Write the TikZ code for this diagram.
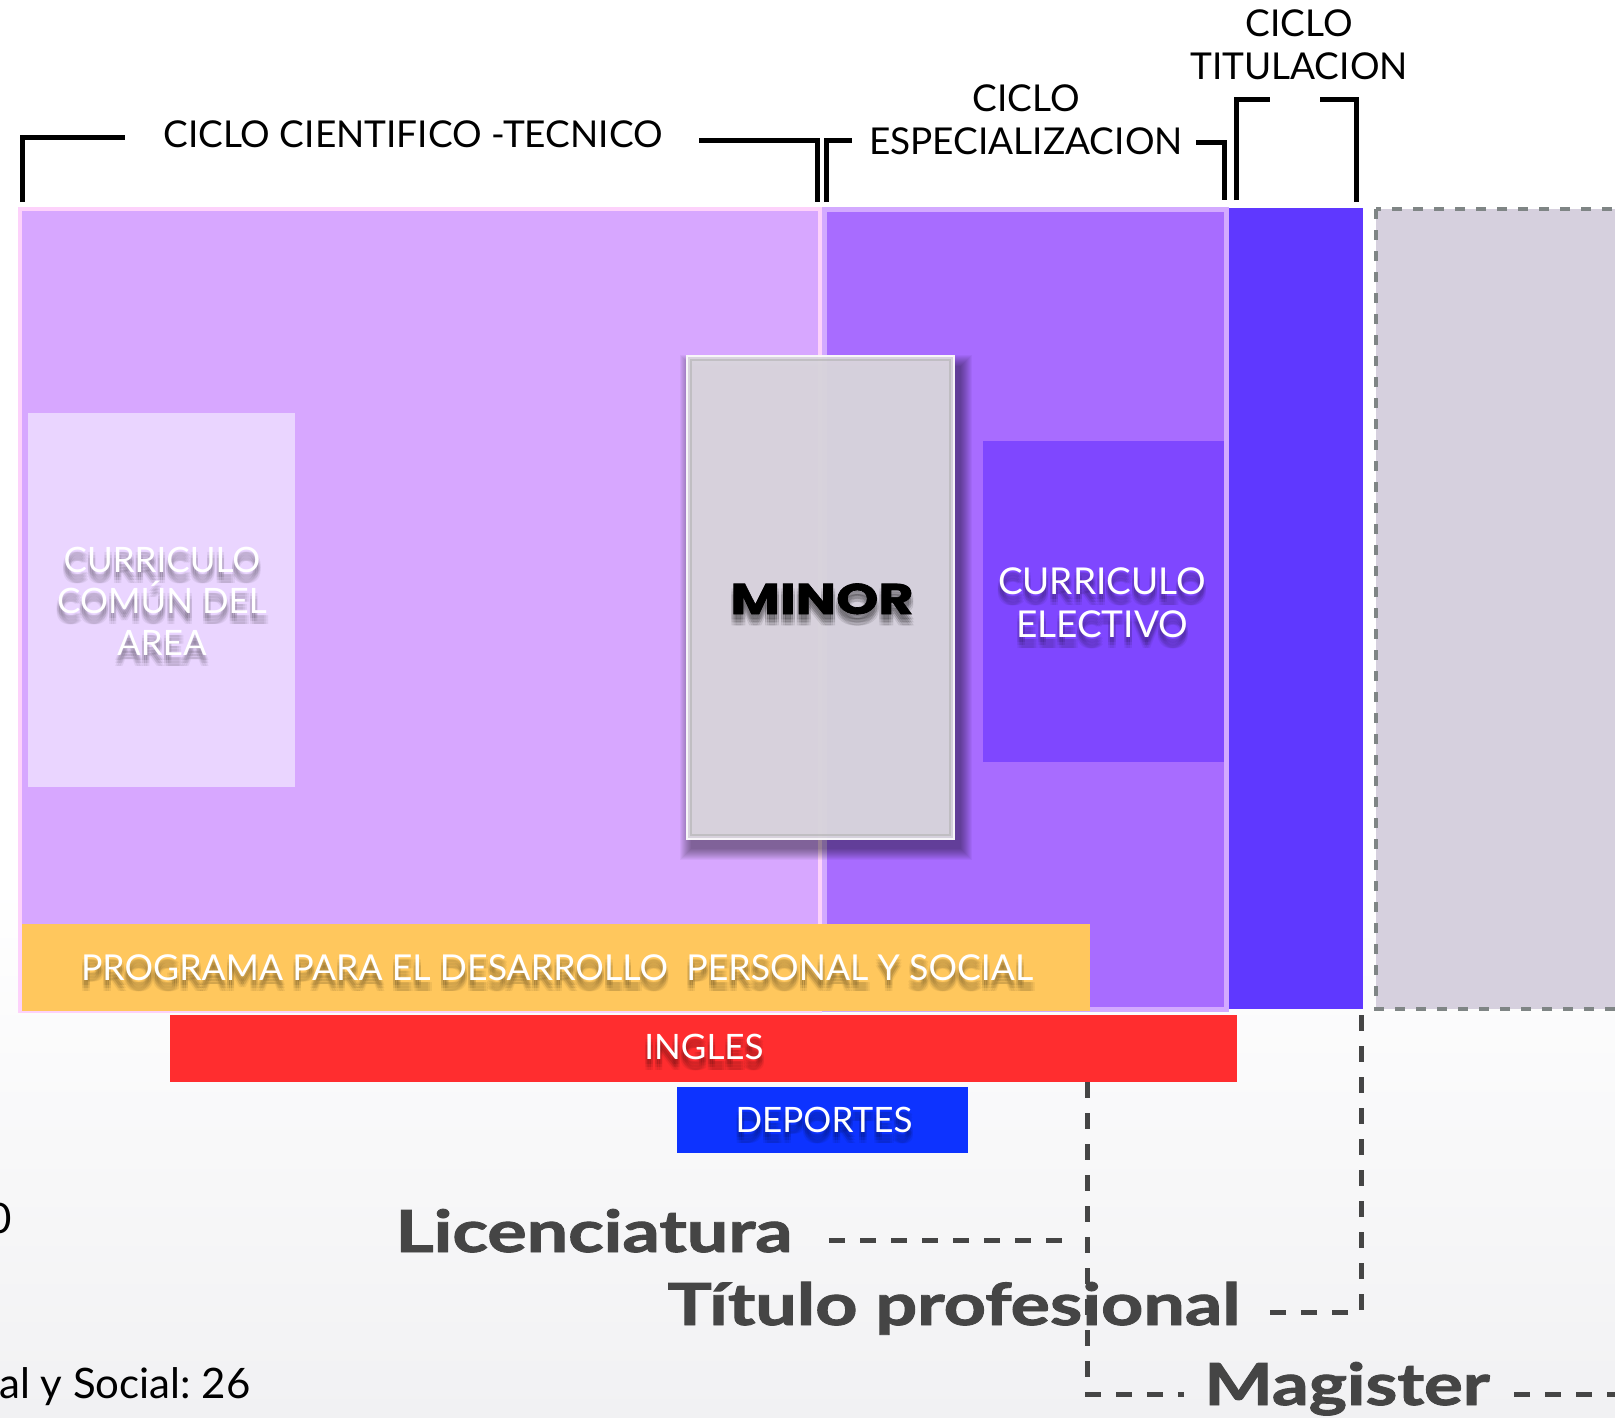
\documentclass[tikz,border=0pt]{standalone}
\usepackage{fontspec}
\setmainfont{Lato}
\newfontfamily\heavyfont{Poppins}
\usetikzlibrary{calc}
\frenchspacing
\definecolor{lp}{HTML}{D7A7FF}
\definecolor{pinkb}{HTML}{FDD2FB}
\definecolor{dp}{HTML}{A86CFF}
\definecolor{dpb}{HTML}{D3AAFF}
\definecolor{titc}{HTML}{5F38FF}
\definecolor{elec}{HTML}{7F47FF}
\definecolor{comunc}{HTML}{EAD5FF}
\definecolor{minorc}{HTML}{DCD8E0}
\definecolor{grayf}{HTML}{D6D0DE}
\definecolor{grayd}{HTML}{7F8585}
\definecolor{orng}{HTML}{FFC75D}
\definecolor{redc}{HTML}{FF2D2F}
\definecolor{depc}{HTML}{0D33FF}
\definecolor{dgray}{HTML}{454545}
\definecolor{bgb}{HTML}{F1F1F3}
\tikzset{
  brk/.style={line width=5pt, black, line cap=butt, line join=miter},
  conn/.style={dgray, line width=5pt, dash pattern=on 16pt off 15pt},
  toplbl/.style={inner sep=0pt, anchor=base, text=black, font=\fontsize{37}{40}\selectfont},
  wlbl/.style={inner sep=0pt, anchor=base, text=white, font=\fontsize{35}{40}\selectfont},
  plbl/.style={inner sep=0pt, anchor=base, text=white, font=\fontsize{35.7}{40}\selectfont},
  elbl/.style={inner sep=0pt, anchor=base, text=white, font=\fontsize{37}{44}\selectfont},
  minorlbl/.style={inner sep=0pt, anchor=base, text=black, font=\heavyfont\bfseries\addfontfeatures{FakeBold=1.5}\fontsize{43}{48}\selectfont},
  botlbl/.style={inner sep=0pt, anchor=base, text=dgray, font=\bfseries\addfontfeatures{FakeBold=1.5}\fontsize{58}{64}\selectfont},
  sidelbl/.style={inner sep=0pt, text=black, font=\fontsize{42}{46}\selectfont},
}
\newcommand\myshadowed[4]{%
  \foreach \dx/\ix in {-2/a,0/b,2/c}{\foreach \dy/\iy in {5/a,8/b,11/c}{%
    \node[#3, text=black, text opacity=0.06, xshift=\dx pt, yshift=-\dy pt] (#1s\ix\iy) at #2 {#4};}}
  \node[#3] (#1) at #2 {#4};}
\begin{document}
\begin{tikzpicture}[x=1pt,y=-1pt]
\useasboundingbox (0,0) rectangle (1615,1418);
\clip (0,0) rectangle (1615,1418);
\fill[white] (0,0) rectangle (1615,1418);
\shade[top color=white, bottom color=bgb] (0,880) rectangle (1615,1418);

% main cycle blocks
\draw[pinkb, line width=4pt, fill=lp] (20,209) rectangle (820,1011);
\draw[dpb, line width=5pt, fill=dp] (824.5,209.5) rectangle (1226.5,1009.5);
\fill[titc] (1229,208) rectangle (1363,1009);
\draw[grayd, line width=4pt, dash pattern=on 10pt off 11pt, fill=grayf] (1376,209) rectangle (1660,1009);

% inner blocks
\fill[comunc] (28,413) rectangle (295,787);
\fill[elec] (983,441) rectangle (1224,762);

% MINOR box with soft shadow
\foreach \i in {0,...,11}{\fill[black, opacity=0.04] (691-\i,366-\i) rectangle (961+\i,849+\i);}
\fill[minorc, fill opacity=0.95] (686,355) rectangle (955,840);
\draw[white, opacity=0.8, line width=2pt] (687,356) rectangle (954,839);
\draw[black!30, opacity=0.6, line width=1.2pt] (691,360) rectangle (950,835);

% bars
\fill[orng] (22,924) rectangle (1090,1011);
\fill[redc] (170,1015) rectangle (1237,1082);
\fill[depc] (677,1087) rectangle (968,1153);

% brackets
\draw[brk] (22,202) -- (22,137.5) -- (125,137.5);
\draw[brk] (699,141) -- (817,141) -- (817,202);
\draw[brk] (826,202) -- (826,141) -- (852,141);
\draw[brk] (1196,142.5) -- (1224,142.5) -- (1224,200);
\draw[brk] (1236.5,200) -- (1236.5,99.5) -- (1270,99.5);
\draw[brk] (1320,99.5) -- (1356,99.5) -- (1356,202);

% top labels
\node[toplbl] (cct) at (413,148) {CICLO CIENTIFICO -TECNICO};
\node[toplbl] (esp1) at (1026,112) {CICLO};
\node[toplbl] (esp2) at (1026,155) {ESPECIALIZACION};
\node[toplbl] (tit1) at (1299,37) {CICLO};
\node[toplbl] (tit2) at (1299,80) {TITULACION};

% box labels
\myshadowed{com1}{(162,572)}{wlbl}{CURRICULO}
\myshadowed{com2}{(162,613)}{wlbl}{COMÚN DEL}
\myshadowed{com3}{(162,655)}{wlbl}{AREA}
\myshadowed{ele1}{(1102,594)}{elbl}{CURRICULO}
\myshadowed{ele2}{(1102,637)}{elbl}{ELECTIVO}
\myshadowed{minor}{(822,614)}{minorlbl}{\scalebox{1.25}[1]{MINOR}}
\myshadowed{prog}{(557,980)}{plbl}{PROGRAMA PARA EL DESARROLLO\ \ PERSONAL Y SOCIAL}
\myshadowed{ingles}{(704,1059)}{wlbl}{INGLES}
\myshadowed{deportes}{(824,1132)}{wlbl}{DEPORTES}

% degree labels
\node[botlbl] (lic) at (594,1252) {\scalebox{1.27}[1]{Licenciatura}};
\node[botlbl] (titp) at (954,1325) {\scalebox{1.27}[1]{Título profesional}};
\node[botlbl] (mag) at (1347,1405) {\scalebox{1.25}[1]{Magister}};
\node[sidelbl, anchor=base west] (side) at (-1,1398) {al y Social: 26};
\node[sidelbl, anchor=base] (zero) at (0,1233) {0};

% dashed connectors
\coordinate (c1top) at (1087,1082);
\coordinate (c1) at (1087,1394);
\coordinate (c2top) at (1361,1015);
\coordinate (c2) at (1361,1312);
\draw[conn] (c1top) -- (c1) -- (1184,1394);
\draw[conn] (1514,1394) -- (1625,1394);
\draw[conn] (c2top) -- (c2) -- (1265,1312);
\draw[conn] (829,1240) -- (1066,1240);
\end{tikzpicture}
\end{document}
